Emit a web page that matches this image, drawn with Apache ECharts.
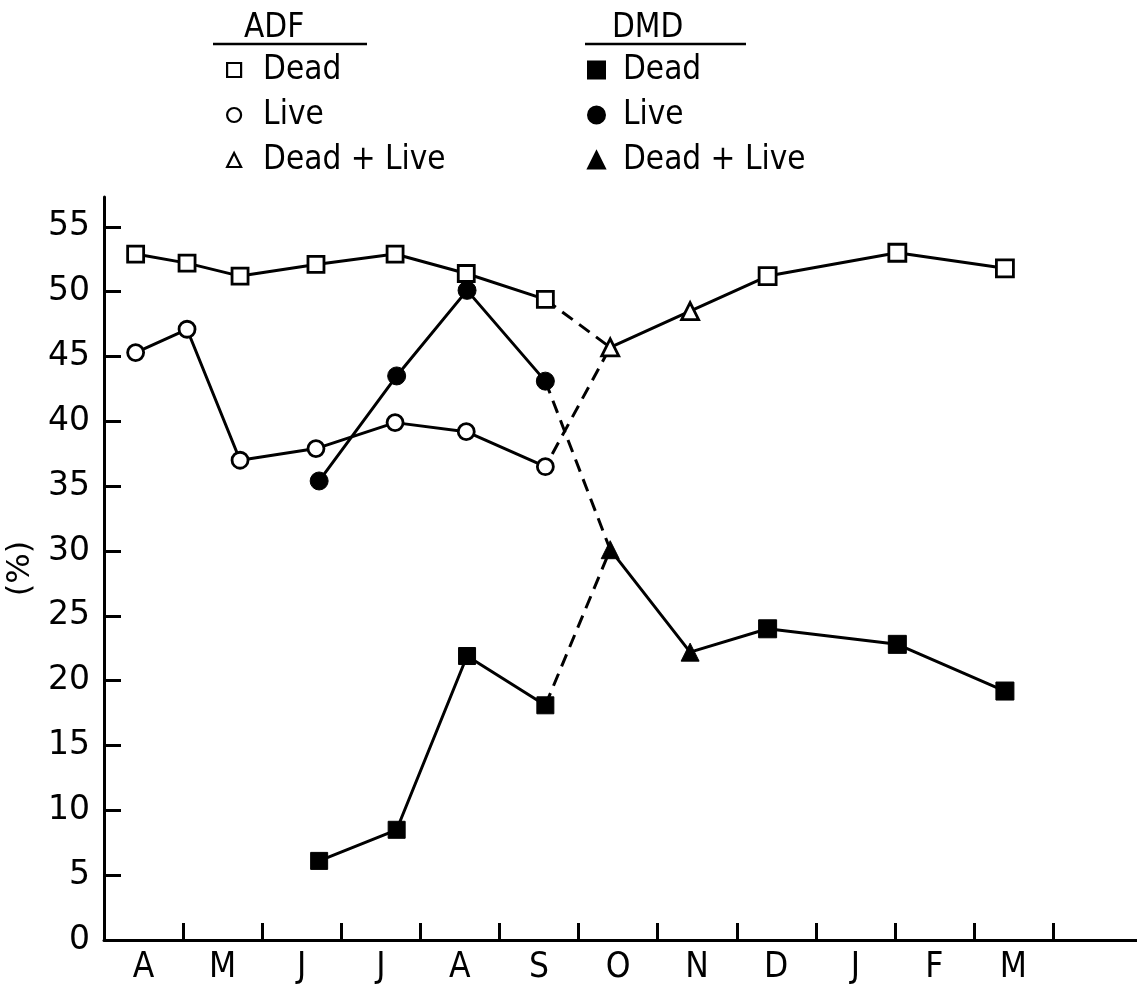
<!DOCTYPE html>
<html>
<head>
<meta charset="utf-8">
<script src="https://cdn.jsdelivr.net/npm/echarts@6/dist/echarts.min.js"></script>
<style>
  html, body { margin: 0; padding: 0; background: #fff; }
  #chart { width: 1137px; height: 985px; }
</style>
</head>
<body>
<div id="chart"></div>
<script>
// month labels (April .. March), x values are in months from start of April
const months = ['A', 'M', 'J', 'J', 'A', 'S', 'O', 'N', 'D', 'J', 'F', 'M']
const adfDates = [0.40, 1.05, 1.72, 2.68, 3.68, 4.58, 5.58]
const adfDead = [52.9, 52.2, 51.2, 52.1, 52.9, 51.4, 49.4]
const adfLive = [45.3, 47.1, 37.0, 37.9, 39.9, 39.2, 36.5]
const dmdDates = [2.72, 3.70, 4.59, 5.58]
const dmdDead = [6.1, 8.5, 21.9, 18.1]
const dmdLive = [35.4, 43.5, 50.1, 43.1]
const winterDates = [6.40, 7.41, 8.39, 10.03, 11.39]
const winterKind = ['Dead + Live', 'Dead + Live', 'Dead', 'Dead', 'Dead']
const adfWinter = [45.7, 48.5, 51.2, 53.0, 51.8]
const dmdWinter = [30.1, 22.2, 24.0, 22.8, 19.2]

const ink = '#000'
const narrow = "'DejaVu Sans Condensed', 'Liberation Sans', sans-serif"
const openStyle = { color: '#fff', borderColor: ink, borderWidth: 2.8 }
const fillStyle = { color: ink, borderColor: ink, borderWidth: 1 }
const solid = { color: ink, width: 3 }
const dashed = { color: ink, width: 3, type: [13, 8] }

function pairs(xs, ys) {
    return xs.map((x, i) => [x, ys[i]])
}
function winter(ys) {
    return winterDates.map((x, i) => ({
        value: [x, ys[i]],
        symbol: winterKind[i] === 'Dead' ? 'rect' : 'triangle'
    }))
}

const chart = echarts.init(document.getElementById('chart'))

chart.setOption({
    animation: false,
    backgroundColor: '#fff',
    title: [
        { text: 'ADF', left: 239, top: 7, textStyle: { fontFamily: narrow, fontSize: 33, fontWeight: 'normal', color: ink } },
        { text: 'DMD', left: 607, top: 7, textStyle: { fontFamily: narrow, fontSize: 33, fontWeight: 'normal', color: ink } }
    ],
    graphic: [
        { type: 'line', shape: { x1: 213, y1: 44, x2: 367, y2: 44 }, style: { stroke: ink, lineWidth: 2.5 } },
        { type: 'line', shape: { x1: 585, y1: 44, x2: 746, y2: 44 }, style: { stroke: ink, lineWidth: 2.5 } }
    ],
    legend: [
        {
            left: 226, top: 53, padding: 0, orient: 'vertical',
            itemWidth: 14, itemHeight: 14, itemGap: 11,
            formatter: n => n.split(' ').slice(1).join(' '),
            textStyle: { fontFamily: narrow, fontSize: 33, lineHeight: 34, color: ink, padding: [0, 0, 0, 17] },
            data: [
                { name: 'ADF Dead', icon: 'rect', itemStyle: { color: '#fff', borderColor: ink, borderWidth: 2.2 } },
                { name: 'ADF Live', icon: 'circle', itemStyle: { color: '#fff', borderColor: ink, borderWidth: 2.2 } },
                { name: 'ADF Dead + Live', icon: 'triangle', itemStyle: { color: '#fff', borderColor: ink, borderWidth: 2.2 } }
            ]
        },
        {
            left: 587, top: 53, padding: 0, orient: 'vertical',
            itemWidth: 17, itemHeight: 17, itemGap: 11,
            formatter: n => n.split(' ').slice(1).join(' '),
            textStyle: { fontFamily: narrow, fontSize: 33, lineHeight: 34, color: ink, padding: [0, 0, 0, 13] },
            data: [
                { name: 'DMD Dead', icon: 'rect', itemStyle: { color: ink } },
                { name: 'DMD Live', icon: 'circle', itemStyle: { color: ink } },
                { name: 'DMD Dead + Live', icon: 'triangle', itemStyle: { color: ink } }
            ]
        }
    ],
    grid: [
        { left: 104, right: 0, top: 197, bottom: 45, outerBoundsMode: 'none', containLabel: false },
        { left: 104, right: 84, top: 197, bottom: 45, outerBoundsMode: 'none', containLabel: false }
    ],
    xAxis: [
        {
            type: 'value', gridIndex: 0, min: 0, max: 13.06, interval: 1,
            axisLine: { lineStyle: { color: ink, width: 3 } },
            axisTick: {
                inside: true, length: 17, lineStyle: { color: ink, width: 3 },
                customValues: months.map((m, i) => i + 1)
            },
            axisLabel: { show: false },
            splitLine: { show: false }
        },
        {
            type: 'category', gridIndex: 1, data: months, boundaryGap: true,
            axisLine: { show: false },
            axisTick: { show: false },
            axisLabel: { margin: 10, fontFamily: narrow, fontSize: 35, color: ink }
        }
    ],
    yAxis: [
        {
            type: 'value', gridIndex: 0, min: 0, max: 57.3, interval: 5,
            name: '(%)', nameLocation: 'middle', nameGap: 55, nameRotate: 90,
            nameTextStyle: { fontFamily: 'DejaVu Sans', fontSize: 32, color: ink },
            axisLine: { show: true, lineStyle: { color: ink, width: 3 } },
            axisTick: { show: true, inside: true, length: 17, lineStyle: { color: ink, width: 3 } },
            axisLabel: { margin: 14, fontFamily: 'DejaVu Sans', fontSize: 33, color: ink },
            splitLine: { show: false }
        },
        { type: 'value', gridIndex: 1, min: 0, max: 57.3, show: false }
    ],
    series: [
        // dashed links Sep -> Oct
        {
            name: 'ADF link', type: 'line', z: 2, symbol: 'none', lineStyle: dashed,
            data: [[adfDates[6], adfDead[6]], [winterDates[0], adfWinter[0]], [adfDates[6], adfLive[6]]]
        },
        {
            name: 'DMD link', type: 'line', z: 2, symbol: 'none', lineStyle: dashed,
            data: [[dmdDates[3], dmdLive[3]], [winterDates[0], dmdWinter[0]], [dmdDates[3], dmdDead[3]]]
        },
        { name: 'ADF Dead', type: 'line', z: 3, symbol: 'rect', symbolSize: 16, itemStyle: openStyle, lineStyle: solid, data: pairs(adfDates, adfDead) },
        { name: 'ADF Live', type: 'line', z: 3, symbol: 'circle', symbolSize: 16, itemStyle: openStyle, lineStyle: solid, data: pairs(adfDates, adfLive) },
        { name: 'ADF Dead + Live', type: 'line', z: 3, symbol: 'triangle', symbolSize: 17, itemStyle: openStyle, lineStyle: solid, data: winter(adfWinter) },
        { name: 'DMD Dead', type: 'line', z: 3, symbol: 'rect', symbolSize: 17, itemStyle: fillStyle, lineStyle: solid, data: pairs(dmdDates, dmdDead) },
        { name: 'DMD Live', type: 'line', z: 3, symbol: 'circle', symbolSize: 18, itemStyle: fillStyle, lineStyle: solid, data: pairs(dmdDates, dmdLive) },
        { name: 'DMD Dead + Live', type: 'line', z: 3, symbol: 'triangle', symbolSize: 18, itemStyle: fillStyle, lineStyle: solid, data: winter(dmdWinter) }
    ]
})

window.addEventListener('resize', () => chart.resize())
</script>
</body>
</html>
